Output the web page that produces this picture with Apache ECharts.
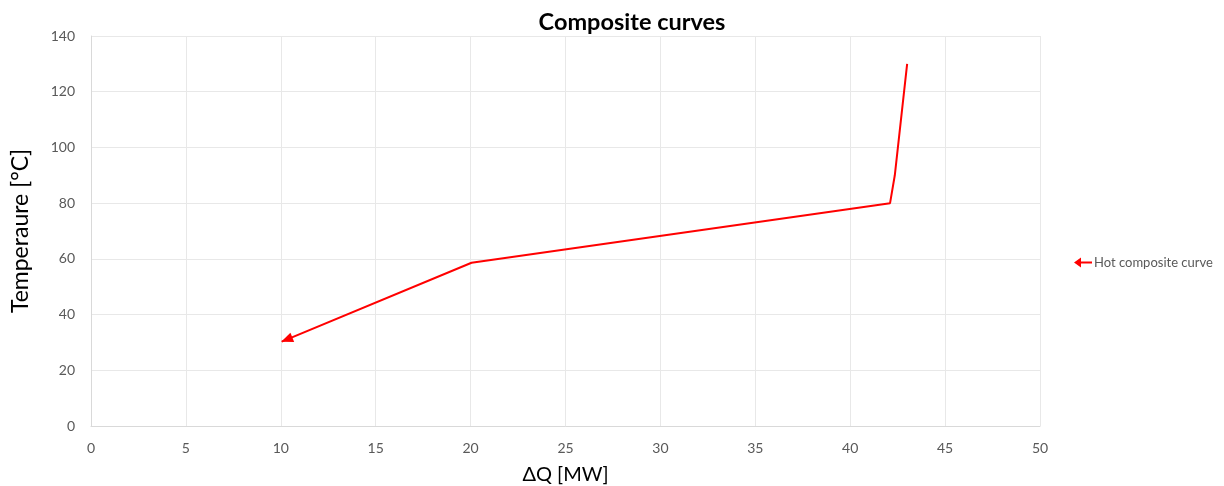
<!DOCTYPE html>
<html>
<head>
<meta charset="utf-8">
<script src="https://cdn.jsdelivr.net/npm/echarts@6/dist/echarts.min.js"></script>
<style>
  html, body { margin: 0; padding: 0; background: #fff; }
  #chart { width: 1224px; height: 486px; }
</style>
</head>
<body>
<div id="chart"></div>
<script>
(function() {
  // hot composite curve, drawn from the hot end down to the cold end (arrow at the end)
  var hotQ = [43.0, 42.35, 42.1, 20.05, 10.05];
  var hotT = [130, 90, 80, 58.6, 30.3];
  var xTicks = { min: 0, max: 50, interval: 5 };
  var yTicks = { min: 0, max: 140, interval: 20 };

  var red = '#ff0000';
  var grid = '#e8e8e8';
  var axis = '#d9d9d9';
  var tick = '#595959';
  var font = 'Lato, "Open Sans", sans-serif';

  var hotData = hotQ.map(function(q, i) {
    var item = { value: [q, hotT[i]] };
    if (i === hotQ.length - 1) {
      item.symbol = 'triangle';
      item.symbolSize = [10, 12];
      item.symbolRotate = 112;
      item.symbolOffset = [5, -2];
      item.itemStyle = { color: red, borderWidth: 0 };
    }
    return item;
  });

  var chart = echarts.init(document.getElementById('chart'), null, { renderer: 'canvas' });
  chart.setOption({
    animation: false,
    textStyle: { fontFamily: font },
    title: {
      text: 'Composite curves',
      left: 627, top: 5, textAlign: 'center',
      textStyle: { fontFamily: font, fontSize: 23.5, fontWeight: 'bold', color: '#000' }
    },
    legend: {
      data: ['Hot composite curve'],
      left: 1069, top: 251,
      icon: 'path://M0,5 L7,0 L7,4 L18,4 L18,6 L7,6 L7,10 Z',
      itemWidth: 18, itemHeight: 10, itemGap: 4,
      textStyle: { color: tick, fontSize: 13, fontFamily: font, padding: [0, 0, 0, -3] }
    },
    grid: { left: 91, right: 184, top: 36, bottom: 60, outerBoundsMode: 'none', containLabel: false },
    xAxis: {
      type: 'value', min: xTicks.min, max: xTicks.max, interval: xTicks.interval,
      name: 'ΔQ [MW]', nameLocation: 'center', nameGap: 39,
      nameTextStyle: { color: '#000', fontSize: 20, fontFamily: font },
      axisLine: { show: true, lineStyle: { color: axis } },
      axisTick: { show: false },
      axisLabel: { color: tick, fontSize: 14, margin: 15 },
      splitLine: { lineStyle: { color: grid } }
    },
    yAxis: {
      type: 'value', min: yTicks.min, max: yTicks.max, interval: yTicks.interval,
      name: 'Temperaure [°C]', nameLocation: 'center', nameGap: 59,
      nameTextStyle: { color: '#000', fontSize: 23, fontFamily: font },
      axisLine: { show: true, lineStyle: { color: axis } },
      axisTick: { show: false },
      axisLabel: { color: tick, fontSize: 14, margin: 16 },
      splitLine: { lineStyle: { color: grid } }
    },
    series: [{
      name: 'Hot composite curve',
      type: 'line',
      data: hotData,
      symbol: 'none',
      lineStyle: { color: red, width: 2 },
      itemStyle: { color: red }
    }]
  });

  window.addEventListener('resize', function() { chart.resize(); });
})();
</script>
</body>
</html>
